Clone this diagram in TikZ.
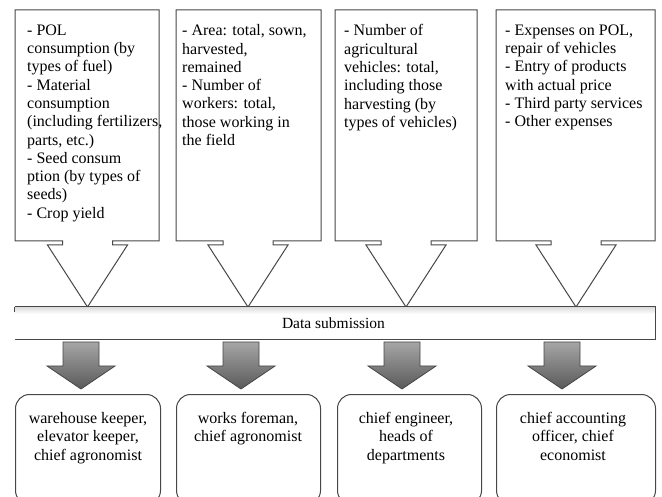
\documentclass[tikz,border=0pt]{standalone}
\usepackage{fontspec}
\setmainfont{Liberation Serif}
\begin{document}
\begin{tikzpicture}[x=1pt,y=-1pt,
  outl/.style={draw=black!72, line width=1pt, line join=miter},
  toptext/.style={font=\fontsize{16}{18.3}\selectfont, align=left, anchor=north west, inner sep=0pt},
  role/.style={draw=black!72, line width=1pt, rounded corners=14pt, anchor=north west, inner sep=0pt},
  roletext/.style={font=\fontsize{16}{18.5}\selectfont, align=center, anchor=north, inner sep=0pt},
  grayarrow/.style={draw=black!72, line width=0.8pt, top color=black!35, bottom color=black!65}
]
\useasboundingbox (0,0) rectangle (662,497);
\clip (0,0) rectangle (662,497);
% callouts
\foreach \l/\r/\c in {15/159/87.5, 176/321/248, 335/477/406, 496/655/576}{
  \draw[outl, fill=white] (\l,10) -- (\r,10) -- (\r,241) -- ({\c+25},241) -- ({\c+25},245) -- ({\c+40},245)
     -- (\c,307) -- ({\c-40},245) -- ({\c-25},245) -- ({\c-25},241) -- (\l,241) -- cycle;
}
\node[toptext] (t1) at (27,24.5) {- POL\\consumption (by\\types of fuel)\\- Material\\consumption\\(including fertilizers,\\parts, etc.)\\- Seed consum\\ption (by types of\\seeds)\\- Crop yield};
\node[toptext] (t2) at (182,24.5) {- Area: total, sown,\\harvested,\\remained\\- Number of\\workers: total,\\those working in\\the field};
\node[toptext] (t3) at (344,24.5) {- Number of\\agricultural\\vehicles: total,\\including those\\harvesting (by\\types of vehicles)};
\node[toptext] (t4) at (505,24.5) {- Expenses on POL,\\repair of vehicles\\- Entry of products\\with actual price\\- Third party services\\- Other expenses};
% data submission bar
\node[minimum width=640pt, minimum height=32pt, inner sep=0pt, fill=white] (bar) at (335,323) {};
\shade[top color=black!14, bottom color=white] (15,307) rectangle (655,314);
\node[font=\fontsize{15.5}{18}\selectfont, inner sep=0pt] (bartext) at (333.5,323) {Data submission};
\draw[outl] (bar.north west) -- (bar.north east) -- (bar.south east) -- (bar.south west);
\draw[outl] (bar.north west) -- ++(0,5);
% gray arrows
\foreach \c in {81,241,402,562}{
  \draw[grayarrow] ({\c-18},342) -- ({\c+18},342) -- ({\c+18},366) -- ({\c+34},366) -- (\c,389)
     -- ({\c-34},366) -- ({\c-18},366) -- cycle;
}
% role boxes
\node[role, minimum width=145pt, minimum height=110pt] (r1) at (15,394) {};
\node[role, minimum width=144pt, minimum height=110pt] (r2) at (176,394) {};
\node[role, minimum width=144pt, minimum height=110pt] (r3) at (337,394) {};
\node[role, minimum width=159pt, minimum height=110pt] (r4) at (496,394) {};
\node[roletext] (l1) at (88,412) {warehouse keeper,\\elevator keeper,\\chief agronomist};
\node[roletext] (l2) at (248,412) {works foreman,\\chief agronomist};
\node[roletext] (l3) at (406,412) {chief engineer,\\heads of\\departments};
\node[roletext] (l4) at (573,412) {chief accounting\\officer, chief\\economist};
\end{tikzpicture}
\end{document}
